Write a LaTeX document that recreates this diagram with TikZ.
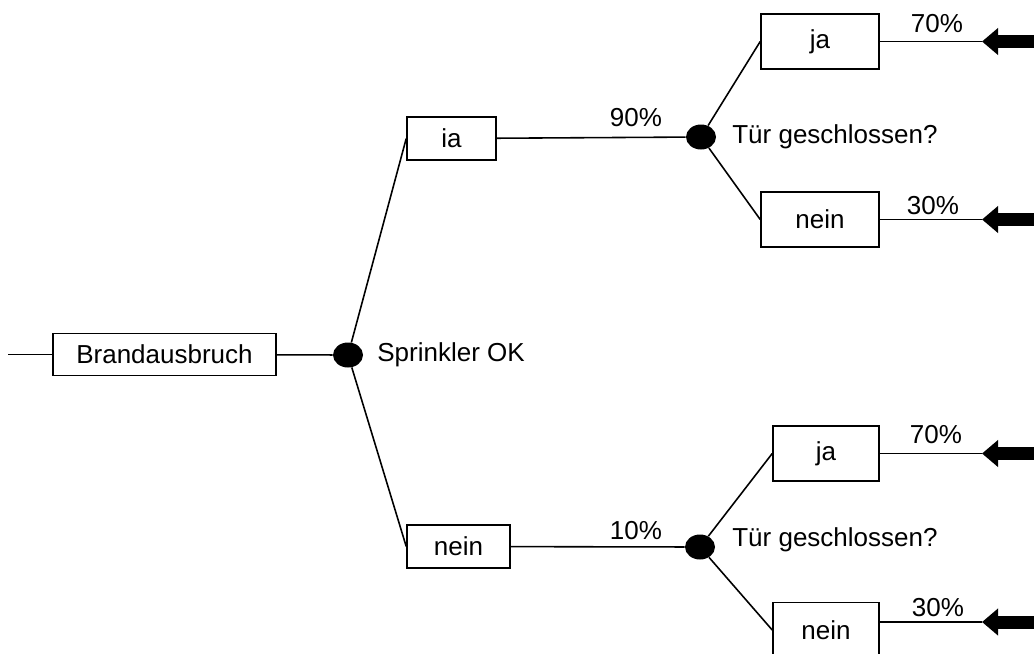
\documentclass[tikz,border=0pt]{standalone}
\usepackage{fontspec}
\setmainfont{Liberation Sans}
\usetikzlibrary{arrows.meta,shapes}

\begin{document}
\begin{tikzpicture}[x=0.02cm, y=-0.02cm,
		box/.style={draw, rectangle, line width=0.9pt, inner sep=0pt, font=\fontsize{14.8}{17}\selectfont},
		dot/.style={ellipse, fill=black, minimum width=0.6cm, minimum height=0.5cm, inner sep=0pt},
		txt/.style={inner sep=0pt, font=\fontsize{14.8}{17}\selectfont},
		edge/.style={line width=0.9pt},
		fat/.style={line width=0.26cm, -{Triangle[length=0.32cm, width=0.52cm]}}]
				\useasboundingbox (0,0) rectangle (1034,653);
				%% Vertices ------
				\coordinate (start) at (8,354.5);
				\node[box, minimum width=4.46cm, minimum height=0.84cm] (brand) at (164.5,354.5) {Brandausbruch};
				\node[dot] (dotS) at (348,355) {};
				\node[txt, anchor=west] (sprinkler) at (377,355) {Sprinkler OK};
				\node[box, minimum width=1.78cm, minimum height=0.86cm] (ia) at (451.5,138.5) {ia};
				\node[box, minimum width=2.06cm, minimum height=0.86cm] (nein1) at (458.5,546.5) {nein};
				\node[txt] (p90) at (636,118) {90\%};
				\node[txt] (p10) at (636,531) {10\%};
				\node[dot] (dotT1) at (701,137) {};
				\node[dot] (dotT2) at (700,547) {};
				\node[txt, anchor=west] (tuer1) at (732,137) {Tür geschlossen?};
				\node[txt, anchor=west] (tuer2) at (732,540) {Tür geschlossen?};
				\node[box, minimum width=2.36cm, minimum height=1.1cm] (ja2) at (820,41.5) {ja};
				\node[box, minimum width=2.36cm, minimum height=1.1cm] (nein2) at (820,219.5) {nein};
				\node[box, minimum width=2.12cm, minimum height=1.1cm] (ja3) at (826,453.5) {ja};
				\node[box, minimum width=2.12cm, minimum height=1.1cm] (nein3) at (826,630) {nein};
				\node[txt] (p70a) at (937,24) {70\%};
				\node[txt] (p30a) at (933,206) {30\%};
				\node[txt] (p70b) at (936,435) {70\%};
				\node[txt] (p30b) at (938,608) {30\%};
				\coordinate (tip1) at (982,41.5);  \coordinate (end1) at (1034,41.5);
				\coordinate (tip2) at (982,219.5); \coordinate (end2) at (1034,219.5);
				\coordinate (tip3) at (982,453.5); \coordinate (end3) at (1034,453.5);
				\coordinate (tip4) at (982,622);   \coordinate (end4) at (1034,622);
				%% Edges ---------
				\draw[edge] (start) -- (brand);
				\draw[edge] (brand) -- (dotS);
				\draw[edge] (dotS) -- (ia.west);
				\draw[edge] (dotS) -- (nein1.west);
				\draw[edge] (ia) -- (dotT1);
				\draw[edge] (nein1) -- (dotT2);
				\draw[edge] (dotT1) -- (ja2.west);
				\draw[edge] (dotT1) -- (nein2.west);
				\draw[edge] (dotT2) -- (ja3.west);
				\draw[edge] (dotT2) -- (nein3.west);
				\draw[edge] (ja2) -- (tip1);
				\draw[edge] (nein2) -- (tip2);
				\draw[edge] (ja3) -- (tip3);
				\draw[edge] (nein3.east |- tip4) -- (tip4);
				\draw[fat] (end1) -- (tip1);
				\draw[fat] (end2) -- (tip2);
				\draw[fat] (end3) -- (tip3);
				\draw[fat] (end4) -- (tip4);
			\end{tikzpicture}
\end{document}
